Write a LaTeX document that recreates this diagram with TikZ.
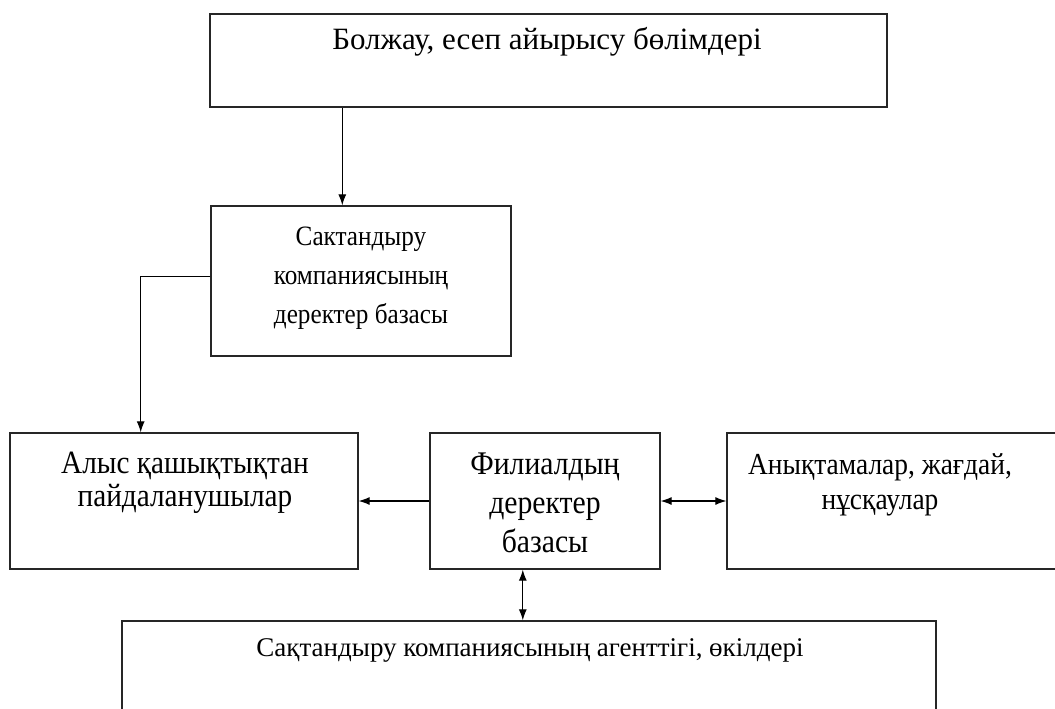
\documentclass[tikz,border=0pt]{standalone}
\usepackage{fontspec}
\setmainfont{Liberation Serif}
\newfontfamily\condserif[FakeStretch=0.9]{Liberation Serif}
\usetikzlibrary{arrows.meta,calc}
\tikzset{
  box/.style={draw=black!85, line width=1.3pt, rectangle, inner sep=0pt},
  lbl/.style={align=center, inner sep=0pt},
  arr/.style={line width=1.1pt, -{Latex[length=11pt,width=8pt]}},
  darr/.style={line width=1.1pt, {Latex[length=11pt,width=8pt]}-{Latex[length=11pt,width=8pt]}},
}
\begin{document}
\begin{tikzpicture}[x=1pt,y=-1pt]
\useasboundingbox (0,0) rectangle (1055,709);
% boxes
\node[box, minimum width=677pt, minimum height=93pt] (top) at (548.5,60.5) {};
\node[box, minimum width=300pt, minimum height=150pt] (db) at (361,281) {};
\node[box, minimum width=348pt, minimum height=136pt] (alys) at (184,501) {};
\node[box, minimum width=230pt, minimum height=136pt] (fil) at (545,501) {};
\node[box, minimum width=343pt, minimum height=136pt] (ref) at (898.5,501) {};
\node[box, minimum width=814pt, minimum height=130pt] (agent) at (529,686) {};
% texts
\node[lbl, font=\fontsize{31}{39}\selectfont] (t1) at (547,42) {Болжау, есеп айырысу бөлімдері};
\node[lbl, font=\condserif\fontsize{28}{39}\selectfont] (t2) at (361,278) {Сактандыру\\компаниясының\\деректер базасы};
\node[lbl, font=\condserif\fontsize{32.5}{33}\selectfont] (t3) at (185,483) {Алыс қашықтықтан\\пайдаланушылар};
\node[lbl, font=\condserif\fontsize{33}{39}\selectfont] (t4) at (545,503) {Филиалдың\\деректер\\базасы};
\node[lbl, font=\condserif\fontsize{30.5}{35}\selectfont] (t5) at (880,485) {Анықтамалар, жағдай,\\нұсқаулар};
\node[lbl, font=\fontsize{27}{39}\selectfont] (t6) at (530,650) {Сақтандыру компаниясының агенттігі, өкілдері};
% connectors
\coordinate (c1) at ($(top.south west)!0.196!(top.south east)$);
\draw[arr] (c1) -- (c1 |- db.north);
\coordinate (c2) at ($(db.north west)!0.47!(db.south west)$);
\coordinate (c3) at ($(alys.north west)!0.376!(alys.north east)$);
\draw[arr] (c2) -| (c3);
\draw[arr] (fil.west) -- (alys.east);
\draw[darr] (fil.east) -- (ref.west);
\coordinate (c4) at ($(fil.south west)!0.404!(fil.south east)$);
\draw[darr] (c4) -- (c4 |- agent.north);
\end{tikzpicture}
\end{document}
